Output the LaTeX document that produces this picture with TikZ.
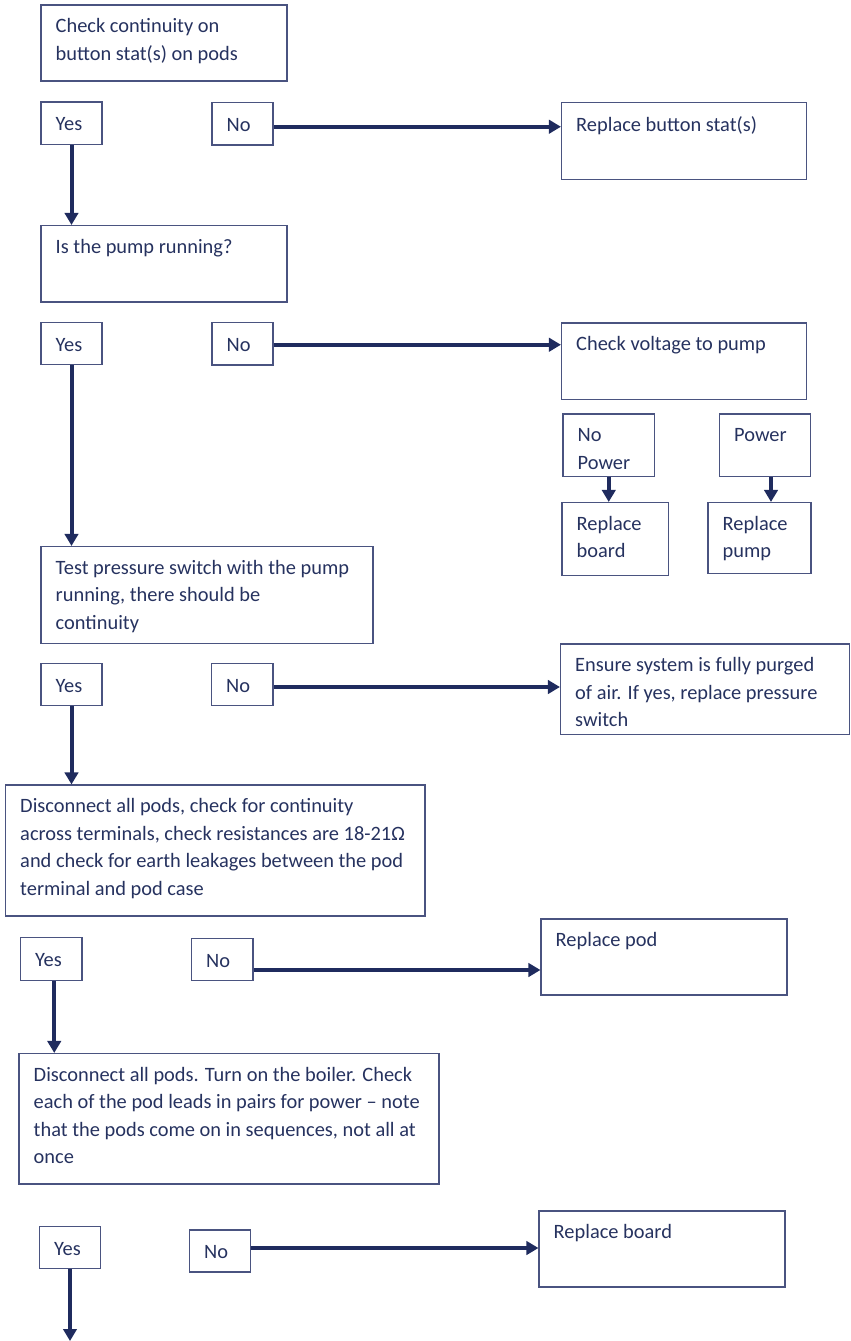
\documentclass[tikz,border=0pt]{standalone}
\usepackage{fontspec}
\setmainfont{Carlito}
\usetikzlibrary{arrows.meta,fit,positioning}
\definecolor{ink}{HTML}{1F2B5E}
\definecolor{boxline}{HTML}{4A5380}
\definecolor{navytext}{HTML}{26325F}

\begin{document}
\begin{tikzpicture}[x=0.75pt,y=-0.75pt,
  box/.style={draw=boxline, line width=0.8pt, inner sep=0pt},
  say/.style={anchor=north west, inner sep=0pt, align=left, text=navytext,
    font=\fontsize{15.3}{20.6}\selectfont},
  flow/.style={draw=ink, line width=3pt, -{Triangle[length=9pt,width=10pt]}}]

\useasboundingbox (0,0) rectangle (850,1341);

\node[box, fit={(41,5) (287,81)}] (Q1) {};
\node[say] (Q1-t) at ([shift={(15,14)}]Q1.north west) {Check continuity on\\button stat(s) on pods};
\node[box, fit={(41,102) (102,144.5)}] (Y1) {};
\node[say] (Y1-t) at ([shift={(15,16)}]Y1.north west) {Yes};
\node[box, fit={(212,102.5) (273,145)}] (N1) {};
\node[say] (N1-t) at ([shift={(15,16)}]N1.north west) {No};
\node[box, fit={(561.5,102.5) (806.5,179.5)}] (R1) {};
\node[say] (R1-t) at ([shift={(15,14)}]R1.north west) {Replace button stat(s)};

\node[box, fit={(41,225.5) (287,302)}] (Q2) {};
\node[say] (Q2-t) at ([shift={(15,14)}]Q2.north west) {Is the pump running?};
\node[box, fit={(41,322.5) (102,364.5)}] (Y2) {};
\node[say] (Y2-t) at ([shift={(15,16)}]Y2.north west) {Yes};
\node[box, fit={(212,322.5) (273,365)}] (N2) {};
\node[say] (N2-t) at ([shift={(15,16)}]N2.north west) {No};
\node[box, fit={(561.5,323) (806.5,399.5)}] (R2) {};
\node[say] (R2-t) at ([shift={(15,14)}]R2.north west) {Check voltage to pump};
\node[box, fit={(563,414) (654.5,476.5)}] (P1) {};
\node[say] (P1-t) at ([shift={(15,15)}]P1.north west) {No\\Power};
\node[box, fit={(719.5,414) (810.5,476.5)}] (P2) {};
\node[say] (P2-t) at ([shift={(15,15)}]P2.north west) {Power};
\node[box, fit={(562,502.5) (668.5,575.5)}] (R2a) {};
\node[say] (R2a-t) at ([shift={(15,14)}]R2a.north west) {Replace\\board};
\node[box, fit={(708,502.5) (811,573.5)}] (R2b) {};
\node[say] (R2b-t) at ([shift={(15,14)}]R2b.north west) {Replace\\pump};

\node[box, fit={(41,546.5) (373,643.5)}] (Q3) {};
\node[say] (Q3-t) at ([shift={(15,14)}]Q3.north west) {Test pressure switch with the pump\\running, there should be\\continuity};
\node[box, fit={(41,663.5) (102,705.5)}] (Y3) {};
\node[say] (Y3-t) at ([shift={(15,16)}]Y3.north west) {Yes};
\node[box, fit={(211.5,663.5) (273,705.5)}] (N3) {};
\node[say] (N3-t) at ([shift={(15,16)}]N3.north west) {No};
\node[box, fit={(560.5,644) (849.5,734.5)}] (R3) {};
\node[say] (R3-t) at ([shift={(15,14)}]R3.north west) {Ensure system is fully purged\\of air. If yes, replace pressure\\switch};

\node[box, fit={(5.5,785) (425,916)}] (Q4) {};
\node[say] (Q4-t) at ([shift={(15,14)}]Q4.north west) {Disconnect all pods, check for continuity\\across terminals, check resistances are 18-21Ω\\and check for earth leakages between the pod\\terminal and pod case};
\node[box, fit={(20.5,937.5) (82,980.5)}] (Y4) {};
\node[say] (Y4-t) at ([shift={(15,16)}]Y4.north west) {Yes};
\node[box, fit={(191.5,938.5) (253,980.5)}] (N4) {};
\node[say] (N4-t) at ([shift={(15,16)}]N4.north west) {No};
\node[box, fit={(541,919) (787,995)}] (R4) {};
\node[say] (R4-t) at ([shift={(15,14)}]R4.north west) {Replace pod};

\node[box, fit={(19,1053.5) (439,1184)}] (Q5) {};
\node[say] (Q5-t) at ([shift={(15,14)}]Q5.north west) {Disconnect all pods. Turn on the boiler. Check\\each of the pod leads in pairs for power -- note\\that the pods come on in sequences, not all at\\once};
\node[box, fit={(39.5,1226.5) (100.5,1268.5)}] (Y5) {};
\node[say] (Y5-t) at ([shift={(15,16)}]Y5.north west) {Yes};
\node[box, fit={(189.5,1230) (250.5,1272)}] (N5) {};
\node[say] (N5-t) at ([shift={(15,16)}]N5.north west) {No};
\node[box, fit={(539,1211) (785,1287)}] (R5) {};
\node[say] (R5-t) at ([shift={(15,14)}]R5.north west) {Replace board};
\coordinate (end) at (71,1341);

\draw[flow] ([shift={(0,3)}]N1.east) -- ([shift={(0,3)}]N1.east -| R1.west);
\draw[flow] ([shift={(0,1)}]N2.east) -- ([shift={(0,1)}]N2.east -| R2.west);
\draw[flow] ([shift={(0,2.5)}]N3.east) -- ([shift={(0,2.5)}]N3.east -| R3.west);
\draw[flow] ([shift={(0,10.5)}]N4.east) -- ([shift={(0,10.5)}]N4.east -| R4.west);
\draw[flow] ([shift={(0,-3)}]N5.east) -- ([shift={(0,-3)}]N5.east -| R5.west);

\draw[flow] (Y1.south) -- (Y1.south |- Q2.north);
\draw[flow] (Y2.south) -- (Y2.south |- Q3.north);
\draw[flow] (Y3.south) -- (Y3.south |- Q4.north);
\draw[flow] ([shift={(3,0)}]Y4.south) -- ([shift={(3,0)}]Y4.south |- Q5.north);
\draw[flow] (Y5.south) -- (Y5.south |- end);

\draw[flow] (P1.south) -- (P1.south |- R2a.north);
\draw[flow] ([shift={(6,0)}]P2.south) -- ([shift={(6,0)}]P2.south |- R2b.north);
\end{tikzpicture}
\end{document}
